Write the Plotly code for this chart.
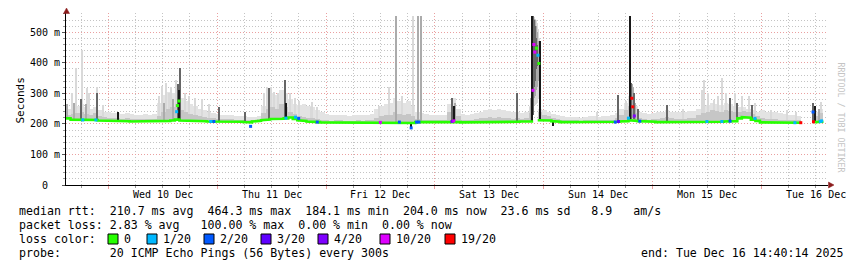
import plotly.graph_objects as go
import pandas as pd

# ---------------- data ----------------
START = pd.Timestamp("2025-12-09 14:40:14")
END = pd.Timestamp("2025-12-16 14:40:14")

# hourly median RTT (ms), one value per hour from START (None = no hourly median drawn)
median_ms = [
    218, 214, 212, 213, 214, 212, 213, 211, 211, 210, 210, 209, 209, 209, 208, 209, 209, 209, 208, 209, 209, 210, 210, 211,
    214, 211, 210, 210, 209, 209, 209, 208, 209, 209, 208, 208, 207, 207, 207, 206, 205, 208, 210, 212, 214, 216, 215, 217,
    218, 221, 216, 212, 210, 208, 207, 206, 205, 204, 204, 205, 204, 203, 204, 204, 203, 203, 204, 204, 203, 204, 205, 204,
    205, 205, 204, 205, 203, 206, 206, 206, 206, 206, 206, 207, 208, 207, 206, 205, 205, 206, 206, 206, 205, 205, 206, 206,
    206, 206, 207, 207, 208, 208, 208, None, 212, 212, 211, 209, 207, 206, 206, 205, 205, 205, 206, 205, 205, 205, 206, 206,
    206, 207, 208, 209, 212, 210, 209, 208, 207, 207, 206, 206, 205, 205, 205, 205, 206, 206, 205, 205, 206, 206, 207, 207,
    207, 208, 207, 209, 218, 222, 220, 214, 210, 205, 204, 204, 204, 204, 203, 204, 204, 204, None, None, None, 206, 207, None,
]

# hourly upper edge of the light smoke (ms)
smoke_max_ms = [
    250, 255, 260, 265, 255, 250, 255, 245, 240, 238, 235, 235, 232, 235, 232, 230, 228, 232, 230, 232, 270, 295, 305, 300,
    310, 285, 275, 265, 260, 250, 245, 240, 235, 232, 230, 228, 228, 225, 225, 225, 222, 222, 225, 260, 290, 300, 295, 310,
    300, 280, 265, 262, 265, 260, 255, 245, 240, 232, 230, 228, 230, 228, 226, 228, 230, 228, 230, 232, 250, 260, 265, 270,
    285, 275, 270, 275, 260, 240, 235, 232, 230, 228, 228, 230, 265, 285, 250, 232, 230, 232, 235, 240, 245, 248, 245, 250,
    245, 242, 238, 240, 235, 240, 260, None, 250, 245, 240, 232, 228, 225, 224, 222, 222, 220, 222, 225, 225, 222, 225, 225,
    228, 235, 250, 270, 290, 260, 240, 235, 232, 235, 238, 240, 245, 240, 238, 240, 238, 242, 242, 250, 258, 262, 268, 265,
    262, 268, 265, 258, 255, 255, 250, 245, 240, 245, 240, 238, 240, 235, 232, 230, 228, 225, None, None, None, 240, 250, None,
]

# hourly upper edge of the denser (darker) smoke (ms)
smoke_p75_ms = [
    228, 232, 235, 240, 232, 228, 235, 226, 222, 220, 218, 218, 217, 218, 216, 216, 215, 216, 215, 216, 225, 240, 250, 255,
    265, 245, 240, 232, 228, 225, 222, 220, 218, 217, 216, 215, 215, 214, 213, 213, 212, 212, 216, 235, 250, 255, 250, 265,
    255, 240, 232, 225, 222, 220, 218, 215, 212, 212, 211, 212, 212, 211, 210, 211, 212, 211, 212, 213, 220, 225, 228, 230,
    238, 232, 230, 232, 225, 216, 214, 213, 212, 212, 212, 214, 240, 260, 225, 214, 213, 214, 215, 218, 220, 222, 220, 222,
    220, 218, 216, 218, 215, 218, 235, None, 240, 228, 225, 220, 216, 214, 213, 212, 212, 211, 212, 213, 213, 212, 213, 213,
    214, 220, 228, 245, 260, 235, 220, 216, 214, 215, 216, 218, 222, 218, 216, 217, 216, 218, 220, 228, 235, 240, 245, 242,
    240, 245, 242, 238, 240, 242, 240, 232, 225, 218, 216, 215, 216, 214, 213, 212, 212, 212, None, None, None, 225, 235, None,
]

# short smoke bursts: (hour from START, low ms, high ms, density level 0..3)
smoke_spikes = [
    (0.3, 215, 265, 1), (1.3, 214, 300, 0), (1.8, 214, 270, 1), (2.2, 213, 382, 0), (3.3, 213, 280, 2),
    (3.5, 213, 441, 0), (4.4, 214, 265, 1), (4.6, 214, 317, 0), (5.0, 212, 300, 0), (6.8, 213, 320, 0),
    (6.9, 213, 300, 2), (8.1, 211, 262, 0), (11.4, 209, 240, 3),
    (20.4, 209, 290, 0), (21.1, 210, 323, 0), (21.6, 210, 270, 1), (22.0, 210, 333, 0), (22.7, 210, 300, 0),
    (23.1, 211, 320, 0), (23.6, 211, 280, 1), (24.2, 214, 343, 0), (24.7, 214, 330, 2), (24.9, 214, 310, 3),
    (25.2, 211, 382, 2), (26.2, 210, 300, 0), (27.1, 210, 290, 0), (28.4, 209, 285, 0), (29.9, 209, 280, 0),
    (31.5, 208, 265, 0), (33.7, 209, 255, 2), (39.4, 206, 240, 2),
    (43.6, 212, 300, 0), (44.3, 214, 320, 0), (44.7, 214, 317, 2), (45.1, 216, 320, 0), (45.8, 216, 305, 0),
    (46.7, 215, 300, 0), (48.2, 218, 343, 2), (48.4, 218, 270, 3), (49.3, 221, 300, 0), (50.4, 216, 285, 0),
    (51.3, 212, 275, 0), (54.0, 207, 255, 0), (54.3, 207, 272, 0), (55.4, 206, 255, 0),
    (69.0, 204, 260, 0), (71.2, 204, 320, 0), (72.7, 205, 555, 1), (74.0, 204, 290, 0), (76.4, 203, 555, 0),
    (76.6, 203, 555, 0), (77.6, 206, 555, 1), (78.2, 206, 555, 1), (76.1, 186, 206, 3),
    (85.1, 208, 284, 2), (85.5, 207, 260, 3), (85.8, 207, 270, 1), (99.5, 207, 300, 2),
    (102.3, 208, 255, 0), (102.5, 208, 285, 1), (102.7, 208, 555, 3), (102.9, 230, 555, 2),
    (103.1, 262, 550, 0), (103.3, 265, 545, 0), (103.5, 262, 545, 0), (103.7, 265, 540, 0), (103.9, 270, 530, 0),
    (104.1, 280, 510, 0), (104.3, 300, 480, 0),
    (103.1, 285, 545, 1), (103.3, 290, 540, 1), (103.5, 300, 530, 1), (103.7, 310, 520, 1), (103.9, 320, 500, 1),
    (104.1, 340, 470, 1), (104.3, 360, 440, 1),
    (103.1, 320, 540, 2), (103.3, 340, 520, 2), (103.5, 360, 500, 2), (103.7, 380, 480, 2), (103.9, 390, 460, 2),
    (104.4, 212, 470, 3),
    (107.4, 192, 210, 3), (117.0, 205, 240, 0), (121.8, 206, 294, 2), (123.5, 208, 275, 0), (124.4, 210, 555, 3),
    (124.6, 215, 333, 2), (124.8, 220, 330, 1), (125.0, 220, 320, 1), (125.2, 215, 300, 2), (125.4, 212, 270, 1),
    (125.7, 210, 255, 0),
    (126.2, 209, 250, 2), (132.5, 206, 261, 2), (136.0, 206, 250, 0), (140.2, 206, 310, 0), (140.7, 206, 343, 0),
    (141.5, 206, 300, 0), (142.9, 207, 278, 0), (143.8, 207, 290, 0), (144.6, 207, 350, 0), (145.5, 208, 300, 0),
    (146.4, 207, 284, 2), (147.5, 209, 300, 0), (148.0, 218, 270, 2), (149.0, 222, 290, 0), (150.5, 220, 290, 0),
    (151.2, 214, 262, 2), (151.8, 214, 270, 0), (155.5, 204, 245, 0), (158.9, 203, 245, 0), (161.0, 204, 238, 0),
    (164.8, 205, 268, 2), (165.2, 205, 260, 3), (166.0, 206, 250, 1), (166.4, 206, 272, 0),
]

# finer median samples with packet loss: (hour from START, median ms, lost pings of 20)
loss_points = [
    (3.7, 213, 1), (6.6, 213, 1), (24.4, 240, 1), (24.6, 260, 0), (24.9, 275, 0), (31.9, 208, 1), (32.6, 208, 2),
    (40.7, 192, 2), (48.5, 219, 1), (50.6, 222, 1), (51.3, 218, 2), (55.4, 206, 2), (69.3, 205, 10), (73.5, 206, 2),
    (76.1, 187, 2), (77.3, 206, 2), (77.8, 206, 2), (85.1, 208, 4), (85.5, 210, 10),
    (102.95, 310, 10), (103.15, 460, 10), (103.35, 435, 10), (103.75, 448, 0), (104.05, 425, 1), (104.25, 398, 0),
    (121.1, 206, 2), (121.8, 208, 3), (124.0, 219, 1), (124.75, 284, 19), (124.95, 256, 19), (125.3, 226, 4),
    (126.5, 209, 2), (141.3, 208, 1), (144.6, 208, 1), (146.4, 209, 2), (151.9, 218, 1), (160.7, 204, 1),
    (162.0, 204, 19), (164.7, 239, 2), (164.8, 207, 19), (166.3, 208, 1), (166.6, 210, 1),
]

loss_thresholds = [0, 1, 2, 3, 4, 10, 19]
loss_labels = ["0", "1/20", "2/20", "3/20", "4/20", "10/20", "19/20"]
loss_colors = ["#26ff00", "#00b8ff", "#0059ff", "#5e00ff", "#7e00ff", "#dd00ff", "#ff0000"]

day_midnights = ["2025-12-10", "2025-12-11", "2025-12-12", "2025-12-13", "2025-12-14", "2025-12-15", "2025-12-16"]
day_labels = ["Wed 10 Dec", "Thu 11 Dec", "Fri 12 Dec", "Sat 13 Dec", "Sun 14 Dec", "Mon 15 Dec", "Tue 16 Dec"]
ytick_vals = [0, 100, 200, 300, 400, 500]
ytick_text = ["0\u00a0\u00a0", "100 m", "200 m", "300 m", "400 m", "500 m"]

stat_line1 = "median rtt:  210.7 ms avg  464.3 ms max  184.1 ms min  204.0 ms now  23.6 ms sd   8.9   am/s"
stat_line2 = "packet loss: 2.83 % avg   100.00 % max  0.00 % min  0.00 % now"
stat_line3 = "loss color:"
stat_line4 = "probe:       20 ICMP Echo Pings (56 Bytes) every 300s"
end_text = "end: Tue Dec 16 14:40:14 2025"

# ---------------- styling ----------------
W, H = 857, 267
PL, PR, PT, PB = 66, 828, 13, 185
Y_TOP = 563.2
MONO = "DejaVu Sans Mono"
MAJOR = "#eaa0a0"
MINOR = "#c4c4c4"
DASH = "1px,2px"
LEVEL_COLORS = ["#d9d9d9", "#ababab", "#666666", "#181818"]
BAND_LIGHT = "#e3e3e3"
BAND_MID = "#c6c6c6"
HOUR_MS = 3600 * 1000


def px_x(px):
    return (px - PL) / (PR - PL)


def px_y(py):
    return (PB - py) / (PB - PT)


def t_of(h):
    return START + pd.Timedelta(hours=h)


def loss_color(n):
    c = loss_colors[0]
    for th, col in zip(loss_thresholds, loss_colors):
        if n >= th:
            c = col
    return c


N = len(median_ms)
assert N == 168 and len(smoke_max_ms) == N and len(smoke_p75_ms) == N

fig = go.Figure()


def band_trace(tops, color):
    xs, bases, hs = [], [], []
    for i in range(N):
        if median_ms[i] is None or tops[i] is None:
            continue
        xs.append(t_of(i + 0.5))
        bases.append(median_ms[i])
        hs.append(tops[i] - median_ms[i])
    return go.Bar(x=xs, y=hs, base=bases, width=HOUR_MS, marker=dict(color=color, line=dict(width=0)),
                  hoverinfo="skip")


def spike_trace(level):
    sel = [s for s in smoke_spikes if s[3] == level]
    return go.Bar(x=[t_of(s[0]) for s in sel], y=[s[2] - s[1] for s in sel], base=[s[1] for s in sel],
                  width=0.22 * HOUR_MS, marker=dict(color=LEVEL_COLORS[level], line=dict(width=0)),
                  hoverinfo="skip")


fig.add_trace(band_trace(smoke_max_ms, BAND_LIGHT))
fig.add_trace(spike_trace(0))
fig.add_trace(band_trace(smoke_p75_ms, BAND_MID))
fig.add_trace(spike_trace(1))

# median line (step)
mx, my = [], []
for i in range(N):
    v = median_ms[i]
    if v is None:
        mx.append(None)
        my.append(None)
        continue
    mx += [t_of(i), t_of(i + 1)]
    my += [v, v]
fig.add_trace(go.Scatter(x=mx, y=my, mode="lines", line=dict(color=loss_colors[0], width=2.6),
                         connectgaps=False, hoverinfo="skip"))

fig.add_trace(spike_trace(2))
fig.add_trace(spike_trace(3))

fig.add_trace(go.Scatter(x=[t_of(p[0]) for p in loss_points], y=[p[1] for p in loss_points], mode="markers",
                         marker=dict(symbol="square", size=3, color=[loss_color(p[2]) for p in loss_points],
                                     line=dict(width=0)), hoverinfo="skip"))

shapes = []
shapes.append(dict(type="path", xref="paper", yref="paper",
                   path=f"M {px_x(66.5)} {px_y(8)} L {px_x(63.5)} {px_y(13.5)} L {px_x(69.5)} {px_y(13.5)} Z",
                   fillcolor="#8b1c1c", line=dict(color="#8b1c1c", width=0.5)))
shapes.append(dict(type="path", xref="paper", yref="paper",
                   path=f"M {px_x(834)} {px_y(185)} L {px_x(828.5)} {px_y(182)} L {px_x(828.5)} {px_y(188)} Z",
                   fillcolor="#8b1c1c", line=dict(color="#8b1c1c", width=0.5)))

annotations = []
for d, lab in zip(day_midnights, day_labels):
    annotations.append(dict(x=pd.Timestamp(d) + pd.Timedelta(hours=12), xref="x", y=px_y(194.3), yref="paper",
                            text=lab, showarrow=False, xanchor="center", yanchor="middle",
                            font=dict(family=MONO, size=10, color="#000")))

annotations.append(dict(x=px_x(11), y=px_y(100), xref="paper", yref="paper", text="Seconds", textangle=-90,
                        showarrow=False, font=dict(family=MONO, size=11, color="#000")))
annotations.append(dict(x=px_x(847.5), y=px_y(60), xref="paper", yref="paper", text="RRDTOOL / TOBI OETIKER",
                        textangle=90, showarrow=False, font=dict(family=MONO, size=8.3, color="#c4c4c4")))

LEG = 11.6
rows = [(stat_line1, 211.3), (stat_line2, 225.3), (stat_line3, 239.3), (stat_line4, 253.3)]
for txt, py in rows:
    annotations.append(dict(x=px_x(16.5), y=px_y(py), xref="paper", yref="paper", text=txt.replace(" ", "\u00a0"),
                            showarrow=False, xanchor="left", yanchor="middle",
                            font=dict(family=MONO, size=LEG, color="#000")))
annotations.append(dict(x=px_x(845), y=px_y(253.3), xref="paper", yref="paper", text=end_text.replace(" ", "\u00a0"),
                        showarrow=False, xanchor="right", yanchor="middle",
                        font=dict(family=MONO, size=LEG, color="#000")))

box_x = [108, 147, 204, 261, 318, 380, 445]
for bx, lab, col in zip(box_x, loss_labels, loss_colors):
    shapes.append(dict(type="rect", xref="paper", yref="paper", x0=px_x(bx), x1=px_x(bx + 10),
                       y0=px_y(244), y1=px_y(234), fillcolor=col, line=dict(color="#000", width=1)))
    annotations.append(dict(x=px_x(bx + 14), y=px_y(239.3), xref="paper", yref="paper", text=lab,
                            showarrow=False, xanchor="left", yanchor="middle",
                            font=dict(family=MONO, size=LEG, color="#000")))

fig.update_layout(
    width=W, height=H, autosize=False,
    margin=dict(l=PL, r=W - PR, t=PT, b=H - PB, pad=0),
    paper_bgcolor="white", plot_bgcolor="white",
    barmode="overlay", bargap=0, showlegend=False,
    font=dict(family=MONO, size=10, color="#000"),
    xaxis=dict(type="date", range=[START, END], tickvals=[pd.Timestamp(d) for d in day_midnights],
               showticklabels=False, showgrid=True, gridcolor=MAJOR, griddash=DASH, gridwidth=1,
               ticks="outside", ticklen=3, tickcolor=MAJOR, showline=True, linecolor="#000", linewidth=1,
               zeroline=False, fixedrange=True,
               minor=dict(dtick=6 * HOUR_MS, tick0="2025-12-10 00:00:00", showgrid=True, gridcolor=MINOR,
                          griddash=DASH, gridwidth=1, ticks="outside", ticklen=2, tickcolor="#999999")),
    yaxis=dict(range=[0, Y_TOP], tickvals=ytick_vals, ticktext=ytick_text, showgrid=True, gridcolor=MAJOR,
               griddash=DASH, gridwidth=1, ticks="outside", ticklen=3, tickcolor="#555555", showline=True,
               linecolor="#000", linewidth=1, zeroline=False, fixedrange=True,
               tickfont=dict(family=MONO, size=10, color="#000"),
               minor=dict(dtick=20, tick0=0, showgrid=True, gridcolor=MINOR, griddash=DASH, gridwidth=1,
                          ticks="outside", ticklen=2, tickcolor="#999999")),
    shapes=shapes, annotations=annotations,
)

fig.write_html("out.html")
